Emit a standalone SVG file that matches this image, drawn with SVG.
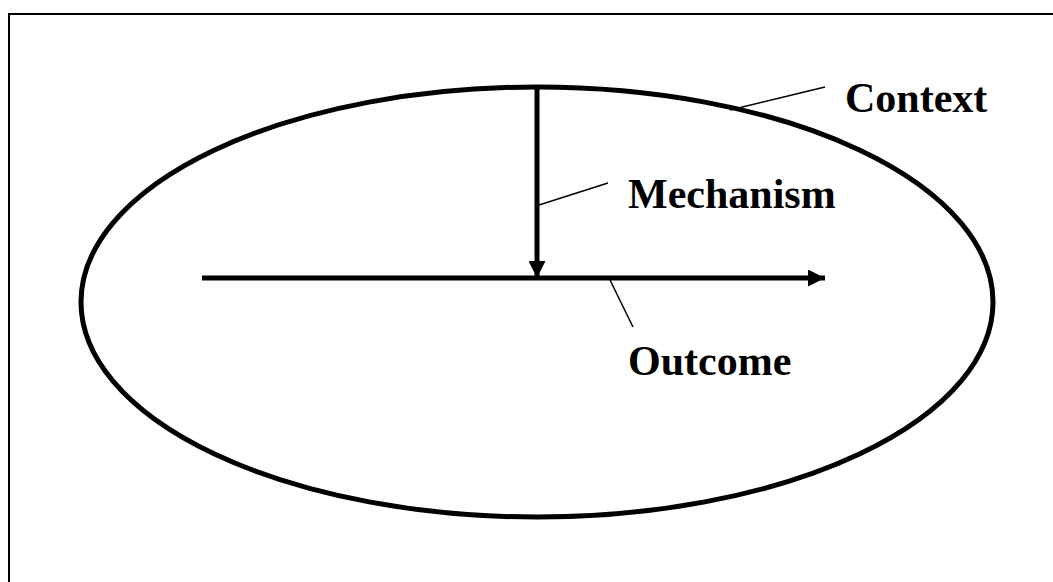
<svg xmlns="http://www.w3.org/2000/svg" width="1053" height="582" viewBox="0 0 1053 582">
<style>
.lbl{font-family:"Liberation Serif","Times New Roman",serif;font-weight:bold;font-size:42px;fill:#000}
.thick{stroke:#000;stroke-width:5;fill:none}
.lead{stroke:#000;stroke-width:1.5;fill:none}
</style>
<defs>
<marker id="ah" markerWidth="17" markerHeight="17" viewBox="0 0 17 17" refX="17" refY="8.5" orient="auto" markerUnits="userSpaceOnUse">
<path d="M0,0 L17,8.5 L0,17 Z" fill="#000"/>
</marker>
</defs>
<rect width="1053" height="582" fill="#fff"/>
<rect x="9" y="14" width="1200" height="700" fill="none" stroke="#000" stroke-width="2"/>
<g id="context">
<ellipse cx="537" cy="302" rx="456" ry="215" class="thick" stroke-width="4.5"/>
<text class="lbl" x="845" y="112">Context</text>
</g>
<g id="mechanism">
<text class="lbl" x="628" y="208">Mechanism</text>
</g>
<g id="outcome">
<text class="lbl" x="628" y="375">Outcome</text>
</g>
<g id="connectors">
<line x1="537" y1="87" x2="537" y2="278" class="thick" marker-end="url(#ah)"/>
<line x1="202" y1="278" x2="825" y2="278" class="thick" marker-end="url(#ah)"/>
<line x1="730" y1="110" x2="825" y2="87" class="lead"/>
<line x1="539" y1="205" x2="608" y2="183" class="lead"/>
<line x1="610" y1="280" x2="633" y2="327" class="lead"/>
</g>
</svg>
